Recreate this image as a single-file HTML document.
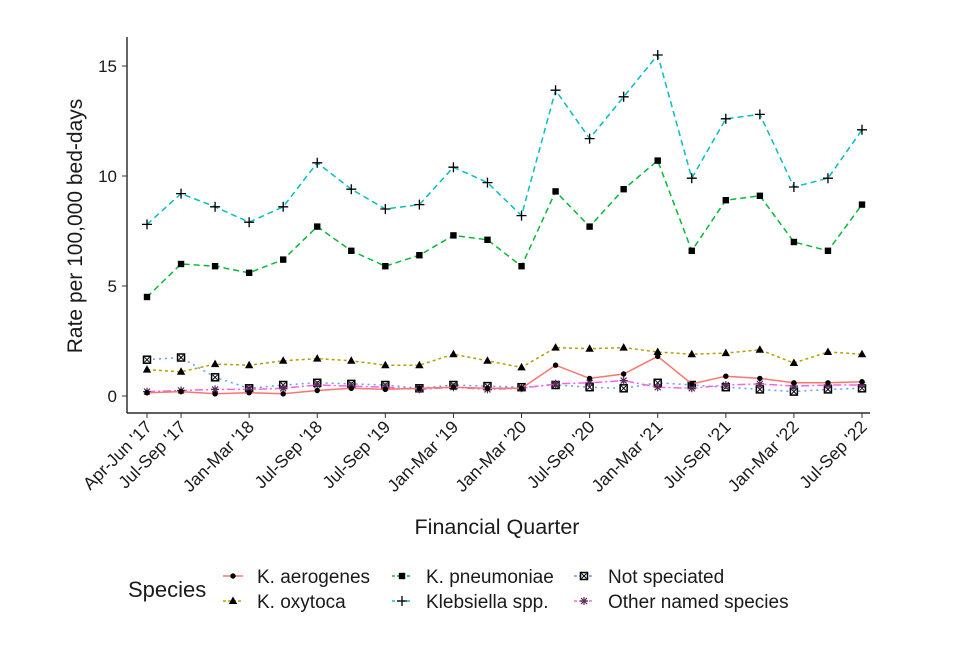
<!DOCTYPE html>
<html><head><meta charset="utf-8"><style>
body{margin:0;background:#fff;}
svg text{font-family:"Liberation Sans",sans-serif;fill:#1a1a1a;}
</style></head><body>
<svg id="chart" width="960" height="640" xmlns="http://www.w3.org/2000/svg">
<g id="plot"></g>
</svg>
<script>
const quarters = ["Apr-Jun '17","Jul-Sep '17","Oct-Dec '17","Jan-Mar '18","Apr-Jun '18","Jul-Sep '18","Oct-Dec '18","Jan-Mar '19","Apr-Jun '19","Jul-Sep '19","Oct-Dec '19","Jan-Mar '20","Apr-Jun '20","Jul-Sep '20","Oct-Dec '20","Jan-Mar '21","Apr-Jun '21","Jul-Sep '21","Oct-Dec '21","Jan-Mar '22","Apr-Jun '22","Jul-Sep '22"];
const tickIndex = [0,1,3,5,7,9,11,13,15,17,19,21];
const tickLabels = ["Apr-Jun '17","Jul-Sep '17","Jan-Mar '18","Jul-Sep '18","Jul-Sep '19","Jan-Mar '19","Jan-Mar '20","Jul-Sep '20","Jan-Mar '21","Jul-Sep '21","Jan-Mar '22","Jul-Sep '22"];
const yTicks = [0,5,10,15];
const aerogenes = [0.15,0.2,0.1,0.15,0.1,0.25,0.35,0.3,0.35,0.4,0.35,0.35,1.4,0.8,1.0,1.8,0.55,0.9,0.8,0.6,0.6,0.65];
const oxytoca = [1.2,1.1,1.45,1.4,1.6,1.7,1.6,1.4,1.4,1.9,1.6,1.3,2.2,2.15,2.2,2.0,1.9,1.95,2.1,1.5,2.0,1.9];
const pneumoniae = [4.5,6.0,5.9,5.6,6.2,7.7,6.6,5.9,6.4,7.3,7.1,5.9,9.3,7.7,9.4,10.7,6.6,8.9,9.1,7.0,6.6,8.7];
const klebSpp = [7.8,9.2,8.6,7.9,8.6,10.6,9.4,8.5,8.7,10.4,9.7,8.2,13.9,11.7,13.6,15.5,9.9,12.6,12.8,9.5,9.9,12.1];
const notSpeciated = [1.65,1.75,0.85,0.35,0.5,0.6,0.55,0.5,0.35,0.5,0.45,0.4,0.5,0.4,0.35,0.6,0.5,0.4,0.3,0.2,0.3,0.35];
const otherNamed = [0.2,0.25,0.3,0.3,0.35,0.5,0.45,0.4,0.3,0.4,0.3,0.35,0.55,0.6,0.7,0.4,0.35,0.5,0.55,0.45,0.5,0.5];

const NS="http://www.w3.org/2000/svg";
const g=document.getElementById('plot');
function mk(t,a,p){const e=document.createElementNS(NS,t);for(const k in a)e.setAttribute(k,a[k]);(p||g).appendChild(e);return e;}
const x=i=>147+i*(862-147)/21;
const y=v=>396-v*22;

let e=mk('line',{x1:127,y1:37,x2:127,y2:413,stroke:'#000','stroke-width':1.2});


e=mk('line',{x1:127,y1:413,x2:870,y2:413,stroke:'#000','stroke-width':1.2});


yTicks.forEach(v=>{
  mk('line',{x1:122,x2:127,y1:y(v),y2:y(v),stroke:'#333'});
  const t=mk('text',{x:117,y:y(v)+6,'text-anchor':'end','font-size':17,fill:'#333'});
  t.textContent=v;
  
  
});
tickIndex.forEach((idx,k)=>{
  const xx=x(idx);
  mk('line',{x1:xx,x2:xx,y1:413,y2:418,stroke:'#333'});
  const t=mk('text',{x:xx+6,y:428,'text-anchor':'end','font-size':17.5,fill:'#222',transform:`rotate(-45 ${xx+6} 428)`});
  t.textContent=tickLabels[k];
  
  
});
e=mk('text',{x:0,y:0,'text-anchor':'middle','font-size':21,transform:'translate(82 226) rotate(-90)'});
e.textContent='Rate per 100,000 bed-days';


e=mk('text',{x:497,y:534,'text-anchor':'middle','font-size':21.5});
e.textContent='Financial Quarter';



function marker(type,cx,cy,color,parent){
  const p=parent||g;
  if(type==='circle') mk('circle',{cx,cy,r:2.7,fill:'#000'},p);
  else if(type==='tri') mk('polygon',{points:`${cx},${cy-4.5} ${cx-4.2},${cy+3} ${cx+4.2},${cy+3}`,fill:'#000'},p);
  else if(type==='sq') mk('rect',{x:cx-3.2,y:cy-3.2,width:6.4,height:6.4,fill:'#000'},p);
  else if(type==='plus'){mk('path',{d:`M${cx-5} ${cy}H${cx+5}M${cx} ${cy-5}V${cy+5}`,stroke:'#000','stroke-width':1.3},p);}
  else if(type==='boxx'){mk('rect',{x:cx-3.5,y:cy-3.5,width:7,height:7,fill:'#fff',stroke:'#000','stroke-width':1.5},p);mk('path',{d:`M${cx-2.5} ${cy-2.5}L${cx+2.5} ${cy+2.5}M${cx+2.5} ${cy-2.5}L${cx-2.5} ${cy+2.5}`,stroke:'#000','stroke-width':1},p);}
  else if(type==='star'){mk('path',{d:`M${cx-4} ${cy}H${cx+4}M${cx} ${cy-4}V${cy+4}M${cx-3} ${cy-3}L${cx+3} ${cy+3}M${cx+3} ${cy-3}L${cx-3} ${cy+3}`,stroke:'#5a2a5a','stroke-width':1.2},p);}
}
const series=[
 {name:'klebsiella-spp',data:klebSpp,color:'#00BFC4',dash:'6 4',m:'plus',label:'Klebsiella spp.'},
 {name:'k-pneumoniae',data:pneumoniae,color:'#00BA38',dash:'6 4',m:'sq',label:'K. pneumoniae'},
 {name:'k-oxytoca',data:oxytoca,color:'#B79F00',dash:'3 3',m:'tri',label:'K. oxytoca'},
 {name:'not-speciated',data:notSpeciated,color:'#619CFF',dash:'2 4',m:'boxx',label:'Not speciated'},
 {name:'other-named-species',data:otherNamed,color:'#F564E3',dash:'8 3 2 3',m:'star',label:'Other named species'},
 {name:'k-aerogenes',data:aerogenes,color:'#F8766D',dash:'',m:'circle',label:'K. aerogenes'}
];
series.forEach(s=>{
  const d=s.data.map((v,i)=>(i?'L':'M')+x(i).toFixed(1)+' '+y(v).toFixed(1)).join('');
  const l=mk('path',{d,fill:'none',stroke:s.color,'stroke-width':1.5,'stroke-dasharray':s.dash});
  
  
  s.data.forEach((v,i)=>{
    const grp=mk('g',{});
    
    
    marker(s.m,x(i),y(v),s.color,grp);
  });
});

e=mk('text',{x:128,y:597,'font-size':22});
e.textContent='Species';


const leg=[
 [series[5],223,576],[series[2],223,601],
 [series[1],392,576],[series[0],392,601],
 [series[3],574,576],[series[4],574,601]];
leg.forEach(([s,lx,ly])=>{
  const grp=mk('g',{});
  
  
  mk('line',{x1:lx,x2:lx+20,y1:ly,y2:ly,stroke:s.color,'stroke-width':1.5,'stroke-dasharray':s.dash?'3 2':''},grp);
  marker(s.m,lx+10,ly,s.color,grp);
  const t=mk('text',{x:lx+34,y:ly+7,'font-size':19},grp);
  t.textContent=s.label;
});
</script>
</body></html>
